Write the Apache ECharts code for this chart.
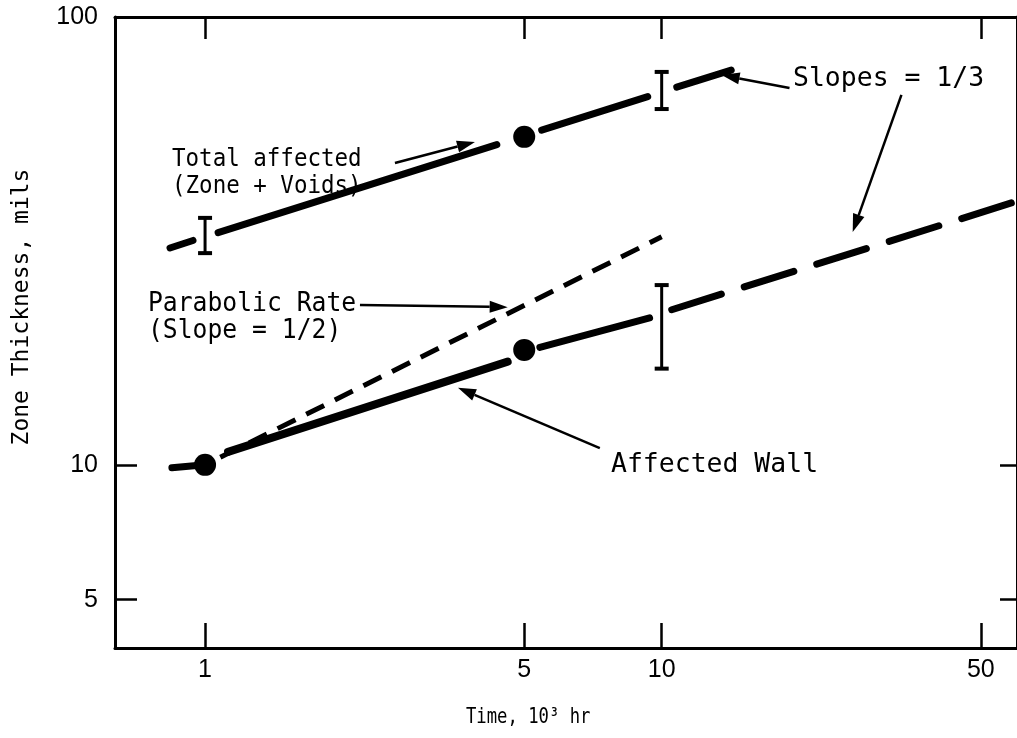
<!DOCTYPE html>
<html>
<head>
<meta charset="utf-8">
<script src="https://cdn.jsdelivr.net/npm/echarts@6/dist/echarts.min.js"></script>
<style>
html,body{margin:0;padding:0;background:#fff;}
#chart{width:1017px;height:738px;}
</style>
</head>
<body>
<div id="chart"></div>
<script>
// ---- data ----
const xTickValues = [1, 5, 10, 50];
const yTickValues = [5, 10, 100];
const xAxisName = 'Time, 10\u00B3 hr';
const yAxisName = 'Zone Thickness, mils';

// Total affected (Zone + Voids): solid segments broken at error bars / point
const totalSeg1 = [[0.838, 30.5], [0.941, 31.7]];
const totalSeg2 = [[1.068, 33.0], [4.355, 51.9]];
const totalSeg3 = [[5.46, 55.9], [9.32, 66.4]];
const totalSeg4 = [[10.79, 69.7], [14.2, 76.1]];
const totalPoint = [[5, 54.0]];

// Affected wall
const wallSeg1 = [[0.846, 9.85], [1.0, 10.0]];
const wallSeg2 = [[1.123, 10.69], [4.60, 17.0]];
const wallSeg3 = [[5.41, 18.3], [9.41, 21.3]];
const wallDashed = [[10.52, 22.2], [58.6, 38.5]];
const wallPoints = [[1, 10.0], [5, 18.06]];

// Parabolic rate (slope 1/2)
const parabolic = [[1.08, 10.4], [10, 32.3]];

// Error bars: [x, low, high]
const errorBars = [[1, 29.7, 35.6], [10, 62.3, 75.4], [10, 16.4, 25.2]];

// Annotation arrows: [xFrom, yFrom, xTo, yTo]
const arrows = [
  [2.605, 47.2, 3.90, 52.6],
  [19.05, 69.4, 13.53, 74.2],
  [33.5, 67.0, 26.2, 33.1],
  [2.184, 22.75, 4.60, 22.5],
  [7.32, 10.9, 3.58, 14.86]
];

// ---- chart ----
const chart = echarts.init(document.getElementById('chart'));
const black = '#000';
const mono = '"DejaVu Sans Mono"';
const thick = {color: black, width: 7, cap: 'round'};

function segSeries(data, style) {
  return {type: 'line', data: data, showSymbol: false, symbol: 'none', silent: true,
    lineStyle: style, z: 3, animation: false};
}

function label(text, x, y, size, sx, lh) {
  return {type: 'text', x: x, y: y, scaleX: sx, scaleY: 1, silent: true,
    style: {text: text, font: size + 'px ' + mono, fill: black, lineHeight: lh || size + 2,
      align: 'left', verticalAlign: 'top'}};
}

const option = {
  animation: false,
  backgroundColor: '#fff',
  grid: {left: 115, right: -1, top: 17, bottom: 90},
  xAxis: [{
    type: 'log', logBase: 10, min: 0.635, max: 60, position: 'bottom',
    axisLine: {show: true, onZero: false, lineStyle: {color: black, width: 3}},
    axisTick: {show: true, inside: true, length: 25, lineStyle: {color: black, width: 2.5}, customValues: xTickValues},
    axisLabel: {show: true, margin: 10, fontFamily: 'Liberation Sans', fontSize: 25, color: black, customValues: xTickValues, formatter: v => String(Math.round(v))},
    splitLine: {show: false}, minorTick: {show: false}
  }, {
    type: 'log', logBase: 10, min: 0.635, max: 60, position: 'top',
    axisLine: {show: true, onZero: false, lineStyle: {color: black, width: 3}},
    axisTick: {show: true, inside: true, length: 22, lineStyle: {color: black, width: 2.5}, customValues: xTickValues},
    axisLabel: {show: false}, splitLine: {show: false}
  }],
  yAxis: [{
    type: 'log', logBase: 10, min: 3.9, max: 100, position: 'left',
    axisLine: {show: true, onZero: false, lineStyle: {color: black, width: 3}},
    axisTick: {show: true, inside: true, length: 22, lineStyle: {color: black, width: 2.5}, customValues: yTickValues},
    axisLabel: {show: true, margin: 17, fontFamily: 'Liberation Sans', fontSize: 25, color: black, customValues: yTickValues, formatter: v => String(Math.round(v))},
    splitLine: {show: false}
  }, {
    type: 'log', logBase: 10, min: 3.9, max: 100, position: 'right',
    axisLine: {show: true, onZero: false, lineStyle: {color: black, width: 3}},
    axisTick: {show: true, inside: true, length: 17, lineStyle: {color: black, width: 2.5}, customValues: yTickValues},
    axisLabel: {show: false}, splitLine: {show: false}
  }],
  series: [
    segSeries(totalSeg1, thick),
    segSeries(totalSeg2, thick),
    segSeries(totalSeg3, thick),
    segSeries(totalSeg4, thick),
    segSeries(wallSeg1, thick),
    segSeries(wallSeg2, {color: black, width: 8, cap: 'round'}),
    segSeries(wallSeg3, thick),
    segSeries(wallDashed, {color: black, width: 7, cap: 'round', type: [52, 24]}),
    segSeries(parabolic, {color: black, width: 5, cap: 'butt', type: [20, 12]}),
    {type: 'scatter', data: totalPoint.concat(wallPoints), symbol: 'circle', symbolSize: 22,
      itemStyle: {color: black, opacity: 1}, silent: true, z: 4},
    {type: 'custom', data: errorBars, silent: true, z: 4,
      renderItem: function (params, api) {
        const lo = api.coord([api.value(0), api.value(1)]);
        const hi = api.coord([api.value(0), api.value(2)]);
        const w = 7;
        return {type: 'group', children: [
          {type: 'line', shape: {x1: lo[0], y1: lo[1], x2: hi[0], y2: hi[1]}, style: {stroke: black, lineWidth: 3}},
          {type: 'line', shape: {x1: lo[0] - w, y1: lo[1], x2: lo[0] + w, y2: lo[1]}, style: {stroke: black, lineWidth: 4}},
          {type: 'line', shape: {x1: hi[0] - w, y1: hi[1], x2: hi[0] + w, y2: hi[1]}, style: {stroke: black, lineWidth: 4}}
        ]};
      }},
    {type: 'custom', data: arrows, silent: true, z: 5,
      renderItem: function (params, api) {
        const a = api.coord([api.value(0), api.value(1)]);
        const b = api.coord([api.value(2), api.value(3)]);
        const dx = b[0] - a[0], dy = b[1] - a[1];
        const L = Math.sqrt(dx * dx + dy * dy);
        const ux = dx / L, uy = dy / L;
        const hl = 18, hw = 6;
        const bx = b[0] - ux * hl, by = b[1] - uy * hl;
        return {type: 'group', children: [
          {type: 'line', shape: {x1: a[0], y1: a[1], x2: bx, y2: by}, style: {stroke: black, lineWidth: 2.5}},
          {type: 'polygon', shape: {points: [[b[0], b[1]], [bx - uy * hw, by + ux * hw], [bx + uy * hw, by - ux * hw]]}, style: {fill: black}}
        ]};
      }}
  ],
  graphic: [
    label('Total affected\n(Zone + Voids)', 172, 146, 25, 0.9, 27),
    label('Slopes = 1/3', 793, 64, 27, 0.98),
    label('Parabolic Rate\n(Slope = 1/2)', 148, 291, 26, 0.95, 27),
    label('Affected Wall', 611, 450, 27, 0.98),
    label(xAxisName, 466, 706, 21, 0.82),
    {type: 'text', x: 22, y: 307, rotation: Math.PI / 2, silent: true,
      style: {text: yAxisName, font: '23px ' + mono, fill: black, align: 'center', verticalAlign: 'middle'}}
  ]
};
chart.setOption(option);
</script>
</body>
</html>
